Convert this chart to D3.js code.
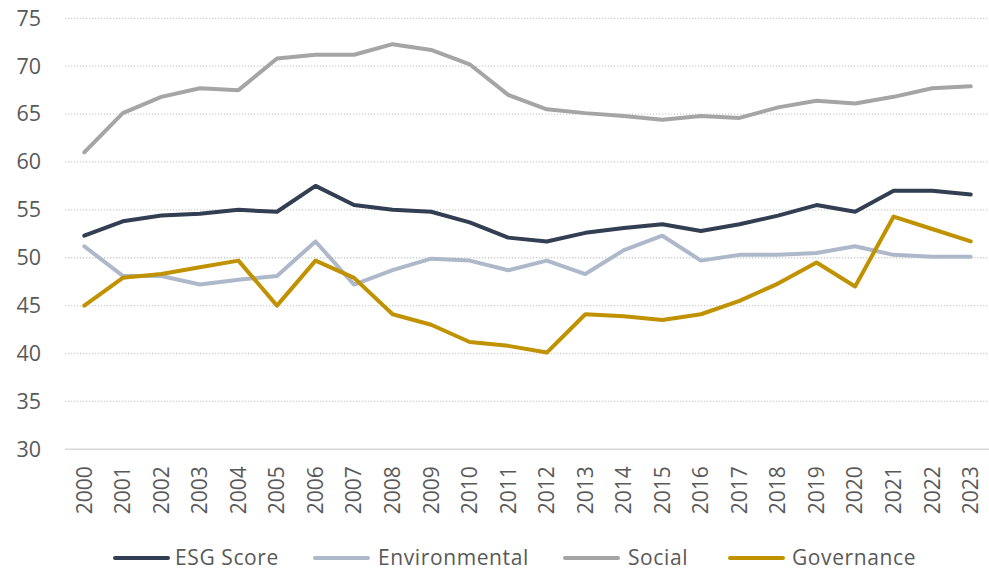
<!DOCTYPE html>
<html>
<head>
<meta charset="utf-8">
<script src="https://cdn.jsdelivr.net/npm/d3@7"></script>
<style>
  body { margin: 0; background: #fff; }
  text { font-family: "Open Sans", sans-serif; fill: #595959; }
</style>
</head>
<body>
<svg id="chart" width="989" height="572"></svg>
<script>
let years = d3.range(2000, 2024).map(String)
let esg = [52.3, 53.8, 54.4, 54.6, 55.0, 54.8, 57.5, 55.5, 55.0, 54.8, 53.7, 52.1, 51.7, 52.6, 53.1, 53.5, 52.8, 53.5, 54.4, 55.5, 54.8, 57.0, 57.0, 56.6]
let environmental = [51.2, 48.1, 48.1, 47.2, 47.7, 48.1, 51.7, 47.2, 48.7, 49.9, 49.7, 48.7, 49.7, 48.3, 50.8, 52.3, 49.7, 50.3, 50.3, 50.5, 51.2, 50.3, 50.1, 50.1]
let social = [61.0, 65.1, 66.8, 67.7, 67.5, 70.8, 71.2, 71.2, 72.3, 71.7, 70.2, 67.0, 65.5, 65.1, 64.8, 64.4, 64.8, 64.6, 65.7, 66.4, 66.1, 66.8, 67.7, 67.9]
let governance = [45.0, 47.9, 48.3, 49.0, 49.7, 45.0, 49.7, 47.9, 44.1, 43.0, 41.2, 40.8, 40.1, 44.1, 43.9, 43.5, 44.1, 45.5, 47.3, 49.5, 47.0, 54.3, 53.0, 51.7]
let yTicks = [30, 35, 40, 45, 50, 55, 60, 65, 70, 75]

let series = [
    { name: "ESG Score", values: esg, color: "#323e52", lx: 115, tx: 175 },
    { name: "Environmental", values: environmental, color: "#adb9ca", lx: 315, tx: 378 },
    { name: "Social", values: social, color: "#a5a5a5", lx: 565, tx: 628 },
    { name: "Governance", values: governance, color: "#c09200", lx: 730, tx: 792 }
]

let x = d3.scaleBand().domain(years).range([65, 990])
let y = d3.scaleLinear().domain([30, 75]).range([449.3, 18.3])

let svg = d3.select("#chart")

// gridlines
svg.append("g")
    .selectAll("line")
    .data(yTicks.filter(d => d > 30))
    .join("line")
    .attr("x1", 65)
    .attr("x2", 989)
    .attr("y1", d => y(d))
    .attr("y2", d => y(d))
    .attr("stroke", "#d0d0d0")
    .attr("stroke-width", 1.3)
    .attr("stroke-dasharray", "1.3,1.7")

// y axis labels
let axisL = d3.axisLeft(y).tickValues(yTicks).tickSize(0).tickPadding(0)
let gy = svg.append("g")
    .attr("transform", "translate(41,0)")
    .call(axisL)
gy.select(".domain").remove()
gy.selectAll("text")
    .attr("font-size", 21.5)
    .attr("fill", "#595959")
    .attr("font-family", "Open Sans, sans-serif")

// x axis
let axisB = d3.axisBottom(x).tickSize(0).tickPadding(0)
let gx = svg.append("g")
    .attr("transform", "translate(0," + y(30) + ")")
    .call(axisB)
gx.select(".domain")
    .attr("stroke", "#d9d9d9")
    .attr("stroke-width", 1.6)
    .attr("d", "M65,0H989")
gx.selectAll("text")
    .attr("font-size", 21)
    .attr("fill", "#595959")
    .attr("font-family", "Open Sans, sans-serif")
    .attr("text-anchor", "end")
    .attr("dy", "0.35em")
    .attr("transform", "translate(0,17) rotate(-90)")
    .attr("y", 0)

// lines
let line = d3.line()
    .x((d, i) => x(years[i]) + x.bandwidth() / 2)
    .y(d => y(d))

svg.append("g")
    .selectAll("path")
    .data(series)
    .join("path")
    .attr("d", d => line(d.values))
    .attr("fill", "none")
    .attr("stroke", d => d.color)
    .attr("stroke-width", 4)
    .attr("stroke-linejoin", "round")
    .attr("stroke-linecap", "round")

// legend
let legend = svg.append("g")
    .selectAll("g")
    .data(series)
    .join("g")
    .attr("transform", "translate(0,558)")

legend.append("line")
    .attr("x1", d => d.lx)
    .attr("x2", d => d.lx + 53)
    .attr("stroke", d => d.color)
    .attr("stroke-width", 4)
    .attr("stroke-linecap", "round")

legend.append("text")
    .attr("x", d => d.tx)
    .attr("dy", "0.35em")
    .attr("font-size", 21)
    .attr("letter-spacing", 0.6)
    .text(d => d.name)
</script>
</body>
</html>
